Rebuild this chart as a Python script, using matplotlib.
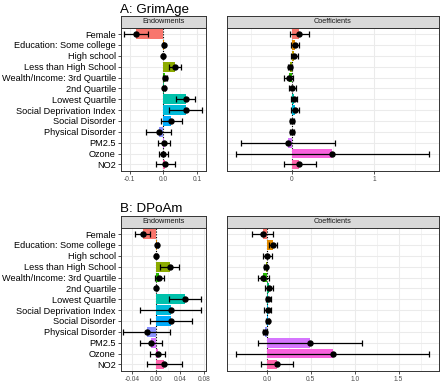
import matplotlib
matplotlib.use("Agg")
import matplotlib.pyplot as plt
from matplotlib.transforms import Bbox, TransformedBbox
import numpy as np

plt.rcParams['font.family'] = ['Liberation Sans', 'DejaVu Sans']

categories = ["Female", "Education: Some college", "High school", "Less than High School",
              "Wealth/Income: 3rd Quartile", "2nd Quartile", "Lowest Quartile",
              "Social Deprivation Index", "Social Disorder", "Physical Disorder",
              "PM2.5", "Ozone", "NO2"]
colors = ["#F8766D", "#E18A00", "#BE9C00", "#8CAB00", "#24B700", "#00BE70", "#00C1AB",
          "#00BBDA", "#00ACFC", "#8B93FF", "#D575FE", "#F962DD", "#FF65AC"]

# A: GrimAge - Endowments
a_end_est = [-0.081, 0.0005, -0.0005, 0.035, 0.005, 0.003, 0.066, 0.066, 0.023, -0.014, 0.001, -0.002, 0.006]
a_end_lo = [-0.116, -0.002, -0.003, 0.018, -0.002, 0.000, 0.038, 0.018, -0.008, -0.052, -0.017, -0.012, -0.021]
a_end_hi = [-0.046, 0.003, 0.002, 0.052, 0.012, 0.006, 0.095, 0.115, 0.056, 0.022, 0.020, 0.015, 0.034]
# A: GrimAge - Coefficients
a_coef_est = [0.09, 0.035, 0.025, -0.025, -0.04, 0.0, 0.025, 0.03, 0.004, 0.0, -0.05, 0.49, 0.09]
a_coef_lo = [-0.03, -0.01, -0.01, -0.045, -0.095, -0.04, -0.015, -0.015, -0.02, -0.02, -0.62, -0.68, -0.10]
a_coef_hi = [0.21, 0.085, 0.075, -0.005, 0.01, 0.05, 0.06, 0.08, 0.02, 0.02, 0.52, 1.67, 0.29]
# B: DPoAm - Endowments
b_end_est = [-0.023, 0.001, -0.001, 0.022, 0.005, 0.0, 0.048, 0.024, 0.024, -0.016, -0.009, 0.003, 0.013]
b_end_lo = [-0.036, -0.001, -0.002, 0.006, -0.003, -0.001, 0.021, -0.028, -0.011, -0.055, -0.027, -0.010, -0.015]
b_end_hi = [-0.010, 0.003, 0.001, 0.038, 0.012, 0.001, 0.075, 0.075, 0.059, 0.023, 0.009, 0.015, 0.043]
# B: DPoAm - Coefficients
b_coef_est = [-0.045, 0.07, 0.005, -0.015, -0.04, 0.02, 0.018, 0.01, 0.008, -0.02, 0.49, 0.75, 0.11]
b_coef_lo = [-0.165, 0.025, -0.05, -0.03, -0.10, -0.025, -0.01, -0.035, -0.01, -0.04, -0.10, -0.35, -0.07]
b_coef_hi = [0.075, 0.115, 0.06, 0.0, 0.02, 0.065, 0.05, 0.05, 0.025, 0.005, 1.08, 1.85, 0.30]

a_end_ticks = [-0.1, 0.0, 0.1]
a_end_labels = ["-0.1", "0.0", "0.1"]
a_coef_ticks = [0, 1]
a_coef_labels = ["0", "1"]
b_end_ticks = [-0.04, 0.0, 0.04, 0.08]
b_end_labels = ["-0.04", "0.00", "0.04", "0.08"]
b_coef_ticks = [0.0, 0.5, 1.0, 1.5]
b_coef_labels = ["0.0", "0.5", "1.0", "1.5"]

W, H = 440, 382
fig = plt.figure(figsize=(W / 100, H / 100), dpi=100)


def px_axes(x0, x1, y0, y1):
    return fig.add_axes([x0 / W, 1 - y1 / H, (x1 - x0) / W, (y1 - y0) / H])


def panel(ax, est, lo, hi, xlim, ticks, labels, show_y, strip_label):
    n = len(categories)
    y = np.arange(n)
    ax.set_facecolor("white")
    ax.set_xlim(*xlim)
    ax.set_ylim(n - 1 + 0.6, -0.6)
    # grid
    for t in ticks:
        ax.axvline(t, color="#EBEBEB", lw=0.75, zorder=0)
    mids = []
    full = sorted(ticks)
    step = full[1] - full[0]
    m = full[0] - step / 2
    while m < xlim[1]:
        if m > xlim[0]:
            mids.append(m)
        m += step
    for mm in mids:
        ax.axvline(mm, color="#EBEBEB", lw=0.4, zorder=0)
    for yy in y:
        ax.axhline(yy, color="#EBEBEB", lw=0.75, zorder=0)
    ax.axvline(0, color="black", lw=0.8, ls=(0, (1, 1.5)), zorder=1)
    ax.barh(y, est, height=0.9, color=colors, zorder=2)
    est_a = np.array(est)
    err = [est_a - np.array(lo), np.array(hi) - est_a]
    ax.errorbar(est, y, xerr=err, fmt="o", color="black", ms=3.6, elinewidth=0.9,
                capsize=2.0, capthick=0.9, zorder=3)
    ax.set_xticks(ticks)
    ax.set_xticklabels(labels)
    ax.set_yticks(y)
    if show_y:
        ax.set_yticklabels(categories, fontsize=6.6, color="black")
    else:
        ax.set_yticklabels([])
        ax.tick_params(axis="y", length=0)
    ax.tick_params(axis="x", labelsize=4.8, labelcolor="#4D4D4D", length=2.5,
                   width=0.6, color="#333333", pad=1)
    if show_y:
        ax.tick_params(axis="y", length=2.5, width=0.6, color="#333333", pad=1.2)
    for s in ax.spines.values():
        s.set_color("#333333")
        s.set_linewidth(0.7)
    ax.grid(False)


def strip(x0, x1, y0, y1, label):
    sa = px_axes(x0, x1, y0, y1)
    sa.set_facecolor("#D9D9D9")
    sa.set_xticks([])
    sa.set_yticks([])
    for s in sa.spines.values():
        s.set_color("#333333")
        s.set_linewidth(0.7)
    sa.text(0.5, 0.5, label, ha="center", va="center", fontsize=5.3, color="#1A1A1A",
            transform=sa.transAxes)


# Top row
ax1 = px_axes(121, 206, 27.5, 171)
panel(ax1, a_end_est, a_end_lo, a_end_hi, (-0.126, 0.127), a_end_ticks, a_end_labels, True, "Endowments")
strip(121, 206, 16, 27.5, "Endowments")
ax2 = px_axes(226.5, 439, 27.5, 171)
panel(ax2, a_coef_est, a_coef_lo, a_coef_hi, (-0.7975, 1.7875), a_coef_ticks, a_coef_labels, False, "Coefficients")
strip(226.5, 439, 16, 27.5, "Coefficients")

# Bottom row
ax3 = px_axes(121, 206, 227.5, 371)
panel(ax3, b_end_est, b_end_lo, b_end_hi, (-0.059, 0.0825), b_end_ticks, b_end_labels, True, "Endowments")
strip(121, 206, 216, 227.5, "Endowments")
ax4 = px_axes(226.5, 439, 227.5, 371)
panel(ax4, b_coef_est, b_coef_lo, b_coef_hi, (-0.46, 1.96), b_coef_ticks, b_coef_labels, False, "Coefficients")
strip(226.5, 439, 216, 227.5, "Coefficients")

# clip the last tick label of bottom-left panel like the original
clipbox = TransformedBbox(Bbox([[0, 0], [211 / W, 1]]), fig.transFigure)
for lab in ax3.get_xticklabels():
    lab.set_clip_on(True)
    lab.set_clip_box(clipbox)

fig.text(119.5 / W, 1 - 13.5 / H, "A: GrimAge", fontsize=9.6, ha="left", va="baseline", color="black")
fig.text(119.5 / W, 1 - 212 / H, "B: DPoAm", fontsize=9.6, ha="left", va="baseline", color="black")

fig.savefig("out.png", dpi=100, facecolor="white")
